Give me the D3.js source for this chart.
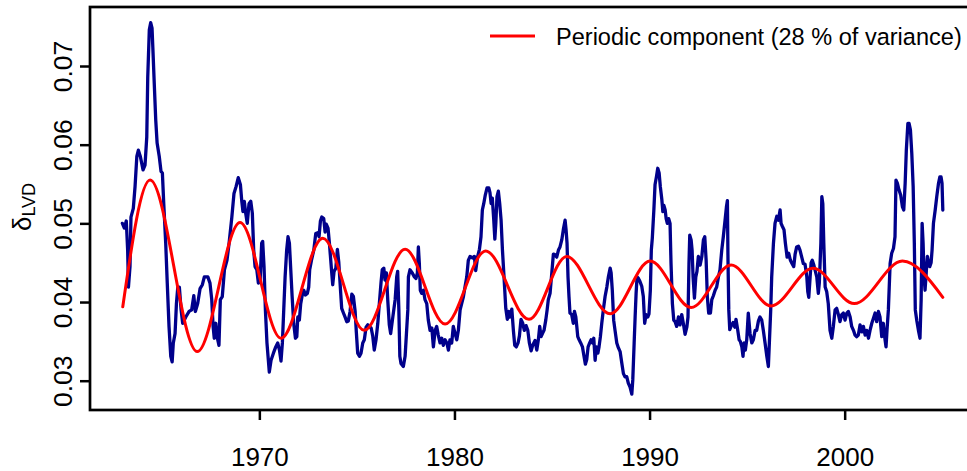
<!DOCTYPE html>
<html>
<head>
<meta charset="utf-8">
<script src="https://cdn.jsdelivr.net/npm/d3@7/dist/d3.min.js"></script>
<style>
  html, body { margin: 0; padding: 0; background: #ffffff; overflow: hidden; }
  svg { display: block; font-family: "Liberation Sans", Arial, sans-serif; }
</style>
</head>
<body>
<svg id="chart" width="967" height="471"></svg>
<script>
// LVD dispersion series (year, value)
const lvdYear = [
  1962.98,1963.08,1963.18,1963.25,1963.29,1963.37,1963.42,1963.54,1963.63,1963.72,1963.80,1963.90,1964.04,1964.14,1964.23,1964.28,1964.36,1964.43,1964.50,1964.54,1964.60,1964.69,1964.76,1964.87,1964.96,1965.03,1965.10,1965.20,1965.28,1965.37,1965.46,1965.53,1965.59,1965.68,1965.75,1965.82,1965.90,1965.99,1966.07,1966.23,1966.40,1966.53,1966.64,1966.72,1966.84,1966.96,1967.08,1967.18,1967.36,1967.47,1967.56,1967.63,1967.69,1967.77,1967.85,1967.93,1968.00,1968.10,1968.21,1968.34,1968.45,1968.59,1968.70,1968.81,1968.92,1969.03,1969.10,1969.16,1969.23,1969.30,1969.38,1969.47,1969.56,1969.64,1969.71,1969.78,
  1969.87,1969.95,1970.04,1970.12,1970.17,1970.24,1970.31,1970.39,1970.51,1970.60,1970.72,1970.84,1970.94,1971.03,1971.11,1971.18,1971.25,1971.32,1971.40,1971.47,1971.54,1971.61,1971.68,1971.76,1971.85,1971.92,1971.97,1972.05,1972.12,1972.20,1972.28,1972.36,1972.46,1972.53,1972.58,1972.67,1972.79,1972.89,1972.99,1973.06,1973.13,1973.20,1973.30,1973.37,1973.43,1973.52,1973.59,1973.66,1973.71,1973.76,1973.83,1973.92,1974.00,1974.07,1974.15,1974.22,1974.31,1974.39,1974.48,1974.56,1974.65,1974.74,1974.82,1974.91,1974.97,1975.04,1975.13,1975.21,1975.30,1975.38,1975.47,1975.56,1975.64,1975.73,1975.81,1975.89,1975.98,1976.07,1976.15,1976.24,1976.30,1976.38,1976.44,1976.51,1976.58,1976.66,1976.73,1976.82,1976.89,1976.96,
  1977.04,1977.09,1977.15,1977.20,1977.26,1977.38,1977.47,1977.53,1977.61,1977.64,1977.72,1977.84,1977.94,1978.03,1978.10,1978.15,1978.20,1978.25,1978.32,1978.41,1978.49,1978.58,1978.66,1978.75,1978.84,1978.92,1979.01,1979.09,1979.17,1979.26,1979.35,1979.43,1979.52,1979.61,1979.69,1979.77,1979.86,1979.94,1980.03,1980.12,1980.20,1980.29,1980.37,1980.46,1980.54,1980.63,1980.71,1980.80,1980.92,1981.02,1981.09,1981.19,1981.28,1981.36,1981.43,1981.50,1981.58,1981.67,1981.76,1981.82,1981.88,1981.94,1982.01,1982.07,1982.12,1982.18,1982.25,1982.32,1982.39,1982.46,1982.54,1982.63,1982.71,1982.78,1982.85,1982.94,1983.02,1983.09,1983.17,1983.26,1983.33,1983.41,1983.50,1983.58,1983.67,1983.76,1983.84,1983.93,1984.01,1984.13,
  1984.22,1984.30,1984.37,1984.44,1984.51,1984.59,1984.68,1984.75,1984.81,1984.90,1984.99,1985.07,1985.16,1985.24,1985.33,1985.41,1985.50,1985.58,1985.67,1985.72,1985.77,1985.82,1985.87,1985.92,1986.01,1986.09,1986.15,1986.22,1986.27,1986.32,1986.39,1986.47,1986.56,1986.64,1986.71,1986.78,1986.85,1986.93,1987.00,1987.07,1987.14,1987.21,1987.27,1987.35,1987.41,1987.48,1987.55,1987.63,1987.72,1987.81,1987.89,1987.98,1988.03,1988.09,1988.16,1988.23,1988.32,1988.40,1988.49,1988.58,1988.66,1988.74,1988.83,1988.91,1989.00,1989.09,1989.14,1989.21,1989.26,1989.31,1989.36,1989.43,1989.51,1989.60,1989.68,1989.75,1989.82,1989.91,1989.97,1990.04,1990.09,1990.14,1990.22,1990.28,1990.35,1990.42,1990.49,1990.55,1990.63,1990.68,1990.73,1990.80,1990.85,1990.91,1990.98,1991.05,1991.10,1991.17,1991.24,1991.31,
  1991.39,1991.48,1991.56,1991.65,1991.73,1991.82,1991.91,1991.97,1992.02,1992.06,1992.13,1992.18,1992.23,1992.30,1992.37,1992.43,1992.50,1992.59,1992.68,1992.76,1992.83,1992.90,1992.96,1993.03,1993.12,1993.19,1993.27,1993.36,1993.44,1993.53,1993.61,1993.70,1993.78,1993.87,1993.94,1993.99,1994.02,1994.06,1994.11,1994.19,1994.28,1994.37,1994.43,1994.52,1994.59,1994.65,1994.73,1994.79,1994.84,1994.91,1994.98,1995.06,1995.15,1995.24,1995.32,1995.41,1995.49,1995.58,1995.66,1995.75,1995.83,1995.92,1996.01,1996.09,1996.14,1996.21,1996.26,1996.35,1996.43,1996.52,1996.60,1996.69,1996.74,1996.81,1996.89,1996.96,1997.05,1997.13,1997.22,1997.30,1997.39,1997.46,1997.54,1997.63,1997.71,1997.80,1997.88,1997.97,1998.06,1998.11,1998.16,1998.23,1998.28,1998.34,1998.42,1998.48,
  1998.57,1998.65,1998.70,1998.78,1998.83,1998.88,1998.93,1999.00,1999.08,1999.16,1999.25,1999.34,1999.42,1999.51,1999.59,1999.68,1999.76,1999.85,1999.93,2000.02,2000.11,2000.19,2000.28,2000.36,2000.45,2000.53,2000.62,2000.70,2000.79,2000.88,2000.96,2001.05,2001.13,2001.22,2001.30,2001.39,2001.47,2001.56,2001.64,2001.73,2001.81,2001.90,2001.98,2002.07,2002.12,2002.17,2002.24,2002.33,2002.41,2002.50,2002.58,2002.63,2002.70,2002.79,2002.87,2002.96,2003.03,2003.10,2003.16,2003.24,2003.30,2003.37,2003.44,2003.51,2003.57,2003.62,2003.70,2003.78,2003.86,2003.92,2003.97,2004.02,2004.07,2004.12,2004.19,2004.24,2004.31,2004.36,2004.43,2004.48,2004.55,2004.64,2004.72,2004.81,2004.88,2004.94,2004.99,2005.03
];
const lvdValue = [
  0.0500,0.0494,0.0503,0.0466,0.0419,0.0445,0.0508,0.0519,0.0547,0.0585,0.0593,0.0585,0.0568,0.0574,0.0610,0.0686,0.0746,0.0755,0.0748,0.0724,0.0686,0.0631,0.0602,0.0585,0.0566,0.0564,0.0525,0.0475,0.0424,0.0369,0.0331,0.0324,0.0348,0.0360,0.0398,0.0419,0.0419,0.0390,0.0373,0.0381,0.0388,0.0390,0.0408,0.0388,0.0398,0.0417,0.0422,0.0432,0.0432,0.0424,0.0403,0.0369,0.0354,0.0373,0.0354,0.0345,0.0403,0.0407,0.0441,0.0453,0.0475,0.0508,0.0538,0.0547,0.0558,0.0549,0.0528,0.0515,0.0528,0.0513,0.0500,0.0525,0.0528,0.0513,0.0466,0.0445,
  0.0441,0.0424,0.0428,0.0475,0.0477,0.0445,0.0390,0.0348,0.0311,0.0326,0.0335,0.0343,0.0348,0.0339,0.0325,0.0348,0.0390,0.0432,0.0466,0.0483,0.0475,0.0441,0.0407,0.0373,0.0354,0.0356,0.0381,0.0377,0.0398,0.0409,0.0415,0.0409,0.0411,0.0419,0.0441,0.0453,0.0466,0.0487,0.0488,0.0483,0.0503,0.0508,0.0506,0.0489,0.0499,0.0494,0.0475,0.0453,0.0437,0.0422,0.0439,0.0443,0.0467,0.0451,0.0419,0.0392,0.0386,0.0381,0.0375,0.0376,0.0388,0.0410,0.0407,0.0388,0.0362,0.0335,0.0331,0.0335,0.0348,0.0352,0.0368,0.0371,0.0369,0.0367,0.0357,0.0339,0.0352,0.0373,0.0398,0.0426,0.0441,0.0443,0.0428,0.0437,0.0403,0.0371,0.0360,0.0377,0.0390,0.0403,
  0.0432,0.0439,0.0390,0.0331,0.0322,0.0318,0.0331,0.0356,0.0390,0.0432,0.0441,0.0437,0.0432,0.0430,0.0437,0.0470,0.0449,0.0415,0.0411,0.0415,0.0403,0.0398,0.0377,0.0364,0.0367,0.0343,0.0364,0.0369,0.0358,0.0348,0.0354,0.0345,0.0352,0.0348,0.0339,0.0352,0.0348,0.0369,0.0360,0.0352,0.0364,0.0390,0.0398,0.0407,0.0419,0.0432,0.0453,0.0458,0.0456,0.0458,0.0440,0.0458,0.0467,0.0483,0.0517,0.0525,0.0536,0.0545,0.0545,0.0539,0.0525,0.0532,0.0506,0.0480,0.0500,0.0534,0.0541,0.0525,0.0504,0.0466,0.0432,0.0392,0.0378,0.0388,0.0381,0.0391,0.0364,0.0345,0.0343,0.0348,0.0357,0.0378,0.0373,0.0364,0.0370,0.0364,0.0348,0.0338,0.0345,0.0351,
  0.0339,0.0352,0.0369,0.0356,0.0360,0.0364,0.0377,0.0390,0.0403,0.0411,0.0437,0.0461,0.0460,0.0457,0.0466,0.0470,0.0479,0.0492,0.0504,0.0492,0.0475,0.0432,0.0407,0.0386,0.0384,0.0373,0.0388,0.0381,0.0369,0.0356,0.0352,0.0348,0.0343,0.0331,0.0321,0.0327,0.0343,0.0348,0.0352,0.0348,0.0354,0.0326,0.0343,0.0335,0.0343,0.0356,0.0373,0.0390,0.0407,0.0419,0.0432,0.0443,0.0437,0.0415,0.0377,0.0364,0.0348,0.0342,0.0337,0.0322,0.0309,0.0305,0.0305,0.0297,0.0292,0.0283,0.0301,0.0348,0.0381,0.0411,0.0432,0.0430,0.0426,0.0420,0.0407,0.0373,0.0384,0.0381,0.0385,0.0415,0.0466,0.0481,0.0517,0.0549,0.0559,0.0570,0.0564,0.0547,0.0530,0.0515,0.0523,0.0517,0.0506,0.0500,0.0506,0.0500,0.0449,0.0398,0.0377,0.0375,
  0.0369,0.0381,0.0371,0.0384,0.0373,0.0359,0.0368,0.0381,0.0449,0.0485,0.0479,0.0466,0.0432,0.0405,0.0432,0.0439,0.0458,0.0447,0.0458,0.0479,0.0483,0.0453,0.0407,0.0386,0.0386,0.0403,0.0408,0.0415,0.0419,0.0432,0.0441,0.0466,0.0483,0.0504,0.0521,0.0529,0.0453,0.0390,0.0365,0.0370,0.0374,0.0368,0.0378,0.0364,0.0352,0.0350,0.0343,0.0331,0.0348,0.0339,0.0352,0.0386,0.0360,0.0348,0.0352,0.0364,0.0364,0.0376,0.0381,0.0377,0.0364,0.0348,0.0331,0.0318,0.0348,0.0390,0.0432,0.0475,0.0500,0.0509,0.0504,0.0517,0.0500,0.0496,0.0492,0.0475,0.0457,0.0462,0.0453,0.0449,0.0445,0.0461,0.0470,0.0471,0.0466,0.0457,0.0449,0.0448,0.0432,0.0413,0.0406,0.0432,0.0450,0.0453,0.0447,0.0441,
  0.0432,0.0411,0.0424,0.0475,0.0534,0.0525,0.0475,0.0419,0.0413,0.0398,0.0364,0.0354,0.0369,0.0390,0.0392,0.0384,0.0375,0.0384,0.0386,0.0377,0.0386,0.0388,0.0381,0.0369,0.0364,0.0358,0.0356,0.0358,0.0371,0.0362,0.0369,0.0358,0.0364,0.0354,0.0364,0.0373,0.0379,0.0386,0.0375,0.0388,0.0381,0.0356,0.0373,0.0352,0.0343,0.0364,0.0390,0.0449,0.0462,0.0468,0.0483,0.0555,0.0551,0.0542,0.0536,0.0521,0.0517,0.0551,0.0593,0.0627,0.0627,0.0619,0.0589,0.0547,0.0475,0.0390,0.0376,0.0364,0.0354,0.0403,0.0500,0.0475,0.0432,0.0415,0.0441,0.0458,0.0449,0.0445,0.0450,0.0466,0.0500,0.0517,0.0534,0.0551,0.0559,0.0559,0.0551,0.0517
];

// Periodic component: start, alternating peaks and troughs, end
const perYear  = [1963.00,1964.40,1966.82,1969.01,1971.11,1973.25,1975.38,1977.47,1979.52,1981.60,1983.82,1985.75,1987.98,1990.03,1992.13,1994.18,1996.23,1998.38,2000.49,2002.96,2005.03];
const perValue = [0.0394,0.0555,0.0337,0.0501,0.0354,0.0481,0.0364,0.0467,0.0372,0.0465,0.0378,0.0458,0.0385,0.0452,0.0393,0.0447,0.0395,0.0443,0.0398,0.0452,0.0406];

const xTicks = [1970, 1980, 1990, 2000];
const yTicks = [0.03, 0.04, 0.05, 0.06, 0.07];
const legendLabel = "Periodic component (28 % of variance)";

const svg = d3.select("#chart");
const plot = { left: 90, right: 975, top: 7, bottom: 410 };

const x = d3.scaleLinear().domain([1961.32, 2006.68]).range([plot.left, plot.right]);
const y = d3.scaleLinear().domain([0.02634, 0.0775]).range([409.5, plot.top]);

const lvd = lvdYear.map((t, i) => [t, lvdValue[i]]);
const per = perYear.map((t, i) => [t, perValue[i]]);

const line = d3.line().x(d => x(d[0])).y(d => y(d[1]));

// series
svg.append("path")
  .datum(lvd)
  .attr("d", line)
  .attr("fill", "none")
  .attr("stroke", "#00008B")
  .attr("stroke-width", 3.3)
  .attr("stroke-linejoin", "round")
  .attr("stroke-linecap", "round");

svg.append("path")
  .datum(per)
  .attr("d", line.curve(d3.curveMonotoneX))
  .attr("fill", "none")
  .attr("stroke", "#FF0000")
  .attr("stroke-width", 3)
  .attr("stroke-linecap", "round");

// frame
svg.append("rect")
  .attr("x", plot.left).attr("y", plot.top)
  .attr("width", plot.right - plot.left).attr("height", plot.bottom - plot.top)
  .attr("fill", "none").attr("stroke", "#000").attr("stroke-width", 2.7);

// y axis
const yAxis = svg.append("g")
  .attr("transform", `translate(${plot.left},0)`)
  .call(d3.axisLeft(y).tickValues(yTicks).tickSize(10).tickFormat(d3.format(".2f")));
yAxis.select(".domain").remove();
yAxis.selectAll(".tick line").attr("stroke", "#000").attr("stroke-width", 2.5);
yAxis.selectAll(".tick text")
  .attr("x", null).attr("dy", null)
  .attr("transform", "translate(-18,0) rotate(-90)")
  .attr("text-anchor", "middle")
  .attr("font-size", 26.5)
  .attr("font-family", "Liberation Sans, Arial, sans-serif")
  .attr("fill", "#000");

// x axis
const xAxis = svg.append("g")
  .attr("transform", `translate(0,${plot.bottom})`)
  .call(d3.axisBottom(x).tickValues(xTicks).tickSize(10).tickFormat(d3.format("d")));
xAxis.select(".domain").remove();
xAxis.selectAll(".tick line").attr("stroke", "#000").attr("stroke-width", 2.5);
xAxis.selectAll(".tick text")
  .attr("y", 56).attr("dy", null)
  .attr("font-size", 26)
  .attr("font-family", "Liberation Sans, Arial, sans-serif")
  .attr("fill", "#000");

// y label: delta with subscript
const yLab = svg.append("text")
  .attr("transform", "translate(31,207) rotate(-90)")
  .attr("text-anchor", "middle")
  .attr("fill", "#000");
yLab.append("tspan").attr("font-size", 26).text("δ");
yLab.append("tspan").attr("font-size", 18).attr("dy", 4).text("LVD");

// legend
svg.append("line")
  .attr("x1", 490).attr("x2", 535).attr("y1", 36).attr("y2", 36)
  .attr("stroke", "#FF0000").attr("stroke-width", 3);
const legText = svg.append("text")
  .attr("x", 556).attr("y", 45)
  .attr("font-size", 24)
  .attr("fill", "#000")
  .text(legendLabel);
// fit the legend label into the space left of the window edge
const legWidth = legText.node().getComputedTextLength();
const legAvail = 962 - 556;
if (legWidth > legAvail) legText.attr("font-size", 24 * legAvail / legWidth);
</script>
</body>
</html>
